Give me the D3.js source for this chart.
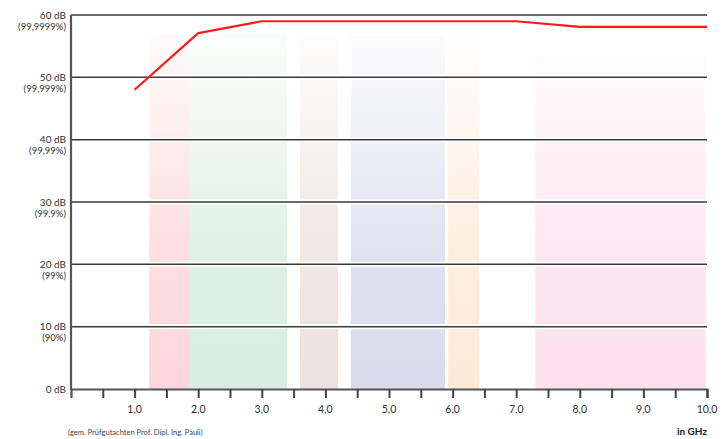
<!DOCTYPE html>
<html><head><meta charset="utf-8">
<script src="https://cdn.jsdelivr.net/npm/d3@7"></script>
<style>body{margin:0;background:#fff}svg{display:block}text{font-family:Lato,"Open Sans",sans-serif}</style>
</head><body>
<svg id="c" width="725" height="439"></svg>
<script>
// Data
const freqGHz = [1.0, 2.0, 3.0, 7.0, 8.0, 10.0];
const dampingDB = [48, 57.1, 59, 59, 58.1, 58.1];
const yTicks = [0, 10, 20, 30, 40, 50, 60];
const yTickPct = ["", "(90%)", "(99%)", "(99,9%)", "(99,99%)", "(99,999%)", "(99,9999%)"];
const xTicks = [0.5,1,1.5,2,2.5,3,3.5,4,4.5,5,5.5,6,6.5,7,7.5,8,8.5,9,9.5,10];
const xLabels = [1,2,3,4,5,6,7,8,9,10];
const bandStart = [1.23, 1.87, 3.60, 4.40, 5.93, 7.30];
const bandEnd   = [1.87, 3.40, 4.20, 5.88, 6.42, 9.98];
const bandTop   = [56.8, 56.8, 56.3, 56.6, 56.3, 53.6];
const bandColor = ["#fdd6da", "#d6eedd", "#ece2dc", "#d9dbec", "#feead6", "#fde0ec"];

const svg = d3.select("#c");
const x = d3.scaleLinear().domain([0, 10]).range([71, 707]);
const y = d3.scaleLinear().domain([0, 60]).range([389, 15]);

const defs = svg.append("defs");
bandColor.forEach((c, i) => {
  const g = defs.append("linearGradient").attr("id", "g" + i)
    .attr("x1", 0).attr("y1", 1).attr("x2", 0).attr("y2", 0);
  g.append("stop").attr("offset", 0).attr("stop-color", c).attr("stop-opacity", 1);
  g.append("stop").attr("offset", 0.4).attr("stop-color", c).attr("stop-opacity", 0.8);
  g.append("stop").attr("offset", 1).attr("stop-color", c).attr("stop-opacity", 0.1);
});

svg.append("g").selectAll("rect").data(bandStart).join("rect")
  .attr("x", (d) => x(d))
  .attr("width", (d, i) => x(bandEnd[i]) - x(d))
  .attr("y", (d, i) => y(bandTop[i]))
  .attr("height", (d, i) => y(0) - y(bandTop[i]))
  .attr("fill", (d, i) => "url(#g" + i + ")");

// gridlines with white halo
const grid = svg.append("g");
grid.selectAll("line.h").data(yTicks.filter(d => d > 0)).join("line").attr("class", "h")
  .attr("x1", x(0)).attr("x2", x(10)).attr("y1", d => y(d)).attr("y2", d => y(d))
  .attr("stroke", "#fff").attr("stroke-width", 5);
grid.selectAll("line.g").data(yTicks.filter(d => d > 0)).join("line").attr("class", "g")
  .attr("x1", x(0)).attr("x2", x(10)).attr("y1", d => y(d)).attr("y2", d => y(d))
  .attr("stroke", "#3a3a3a").attr("stroke-width", 1.5);

// x axis
const xAxis = d3.axisBottom(x).tickValues(xTicks).tickSize(9).tickFormat("");
const gx = svg.append("g").attr("transform", `translate(0,${y(0)})`).call(xAxis);
gx.select(".domain").attr("stroke", "#555").attr("stroke-width", 2.2);
gx.selectAll(".tick line").attr("stroke", "#444").attr("stroke-width", 2);
svg.append("g").selectAll("text").data(xLabels).join("text")
  .attr("x", d => x(d)).attr("y", 413).attr("text-anchor", "middle")
  .attr("font-size", 10.5).attr("fill", "#333")
  .text(d => d.toFixed(1).replace(".", ","));

// y axis line
svg.append("line").attr("x1", x(0)).attr("x2", x(0)).attr("y1", y(60)).attr("y2", y(0) + 1)
  .attr("stroke", "#555").attr("stroke-width", 2.2);

// y labels
const yl = svg.append("g");
yTicks.forEach((d, i) => {
  yl.append("text").attr("x", 66).attr("y", y(d) + 3.5).attr("text-anchor", "end")
    .attr("font-size", 10).attr("fill", "#333").text(d + " dB");
  if (yTickPct[i]) yl.append("text").attr("x", 66).attr("y", y(d) + 14.5).attr("text-anchor", "end")
    .attr("font-size", 9.5).attr("fill", "#333").text(yTickPct[i]);
});

// red line
const line = d3.line().x((d, i) => x(freqGHz[i])).y(d => y(d));
svg.append("path").datum(dampingDB).attr("d", line)
  .attr("fill", "none").attr("stroke", "#ff1a1a").attr("stroke-width", 2.2)
  .attr("stroke-linejoin", "round");

svg.append("text").attr("x", 68).attr("y", 435).attr("font-size", 7.5).attr("fill", "#444")
  .text("(gem. Prüfgutachten Prof. Dipl. Ing. Pauli)");
svg.append("text").attr("x", 707).attr("y", 435).attr("text-anchor", "end")
  .attr("font-size", 10).attr("font-weight", "bold").attr("fill", "#222").text("in GHz");
</script>
</body></html>
